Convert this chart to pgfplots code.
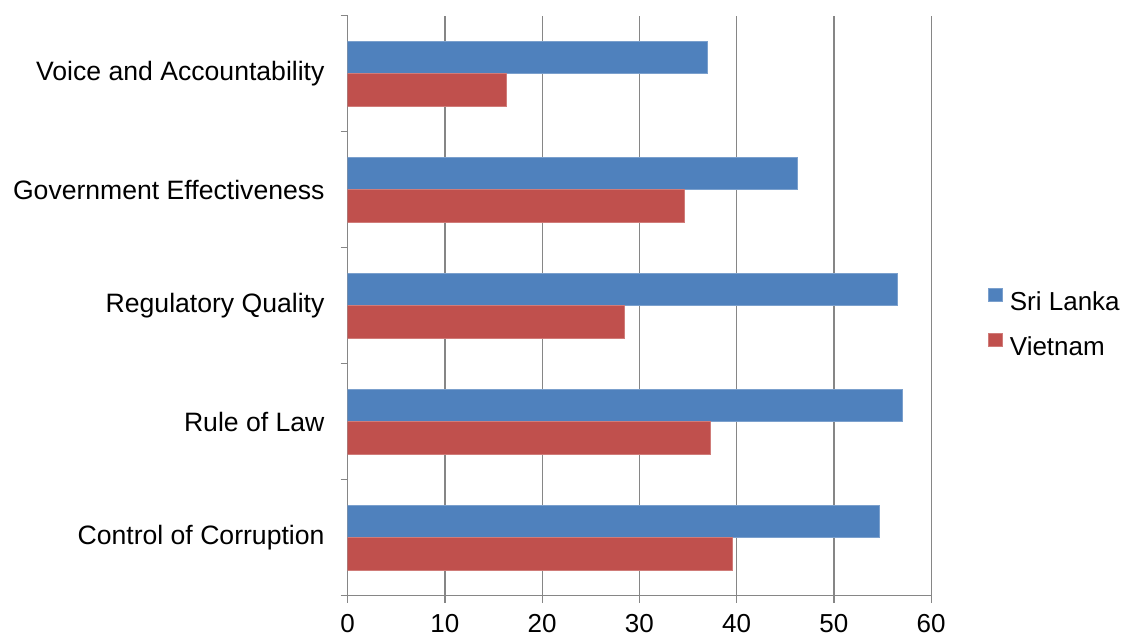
\documentclass[border=0pt]{standalone}
\usepackage{pgfplots}
\pgfplotsset{compat=1.18}
\usepackage{fontspec}
\setmainfont{Liberation Sans}
\definecolor{sl}{HTML}{4F81BD}
\definecolor{vn}{HTML}{C0504D}
\definecolor{gridc}{HTML}{868686}
\begin{document}
\begin{tikzpicture}[x=1pt,y=1pt]
\useasboundingbox (0,0) rectangle (1122,637);
\begin{axis}[
 at={(347.7pt,41.3pt)}, anchor=south west,
 width=583.5pt, height=580pt, scale only axis,
 xmin=0, xmax=60, ymin=-0.5, ymax=4.5,
 xtick={0,10,...,60},
 ytick={0,1,2,3,4},
 yticklabels={Control of Corruption, Rule of Law, Regulatory Quality, Government Effectiveness, Voice and Accountability},
 minor ytick={-0.5,0.5,1.5,2.5,3.5,4.5},
 /pgf/number format/assume math mode=true,
 axis lines*=left,
 axis line style={gridc, line width=1.3pt, -},
 xmajorgrids,
 major grid style={gridc, line width=1.3pt},
 tick align=outside,
 major tick length=7pt, minor tick length=7pt,
 tick style={gridc, line width=1.3pt},
 major y tick style={draw=none},
 ticklabel style={inner sep=0pt},
 xticklabel style={font=\fontsize{26}{31}\selectfont, anchor=north, yshift=-11pt},
 yticklabel style={font=\fontsize{26.6}{31}\selectfont, anchor=east, xshift=-16pt},
 legend style={at={(1.0973,0.4716)}, anchor=west, draw=none, fill=none, inner sep=0pt,
   font=\fontsize{26}{31}\selectfont, row sep=21pt, nodes={inner sep=0pt},
   /tikz/every odd column/.append style={column sep=7.5pt}},
 legend cell align=left,
 legend image code/.code={\fill[#1] (0pt,0pt) rectangle (13.4pt,13.4pt);},
]
\addplot[xbar, bar width=0.282, bar shift=0.1408, fill=sl, draw=sl!75!white, line width=0.8pt]
 coordinates {(54.7,0) (57.0,1) (56.5,2) (46.2,3) (37.0,4)};
\addlegendentry{Sri Lanka}
\addplot[xbar, bar width=0.282, bar shift=-0.1408, fill=vn, draw=vn!75!white, line width=0.8pt]
 coordinates {(39.6,0) (37.3,1) (28.5,2) (34.6,3) (16.3,4)};
\addlegendentry{Vietnam}
\end{axis}
\end{tikzpicture}
\end{document}
